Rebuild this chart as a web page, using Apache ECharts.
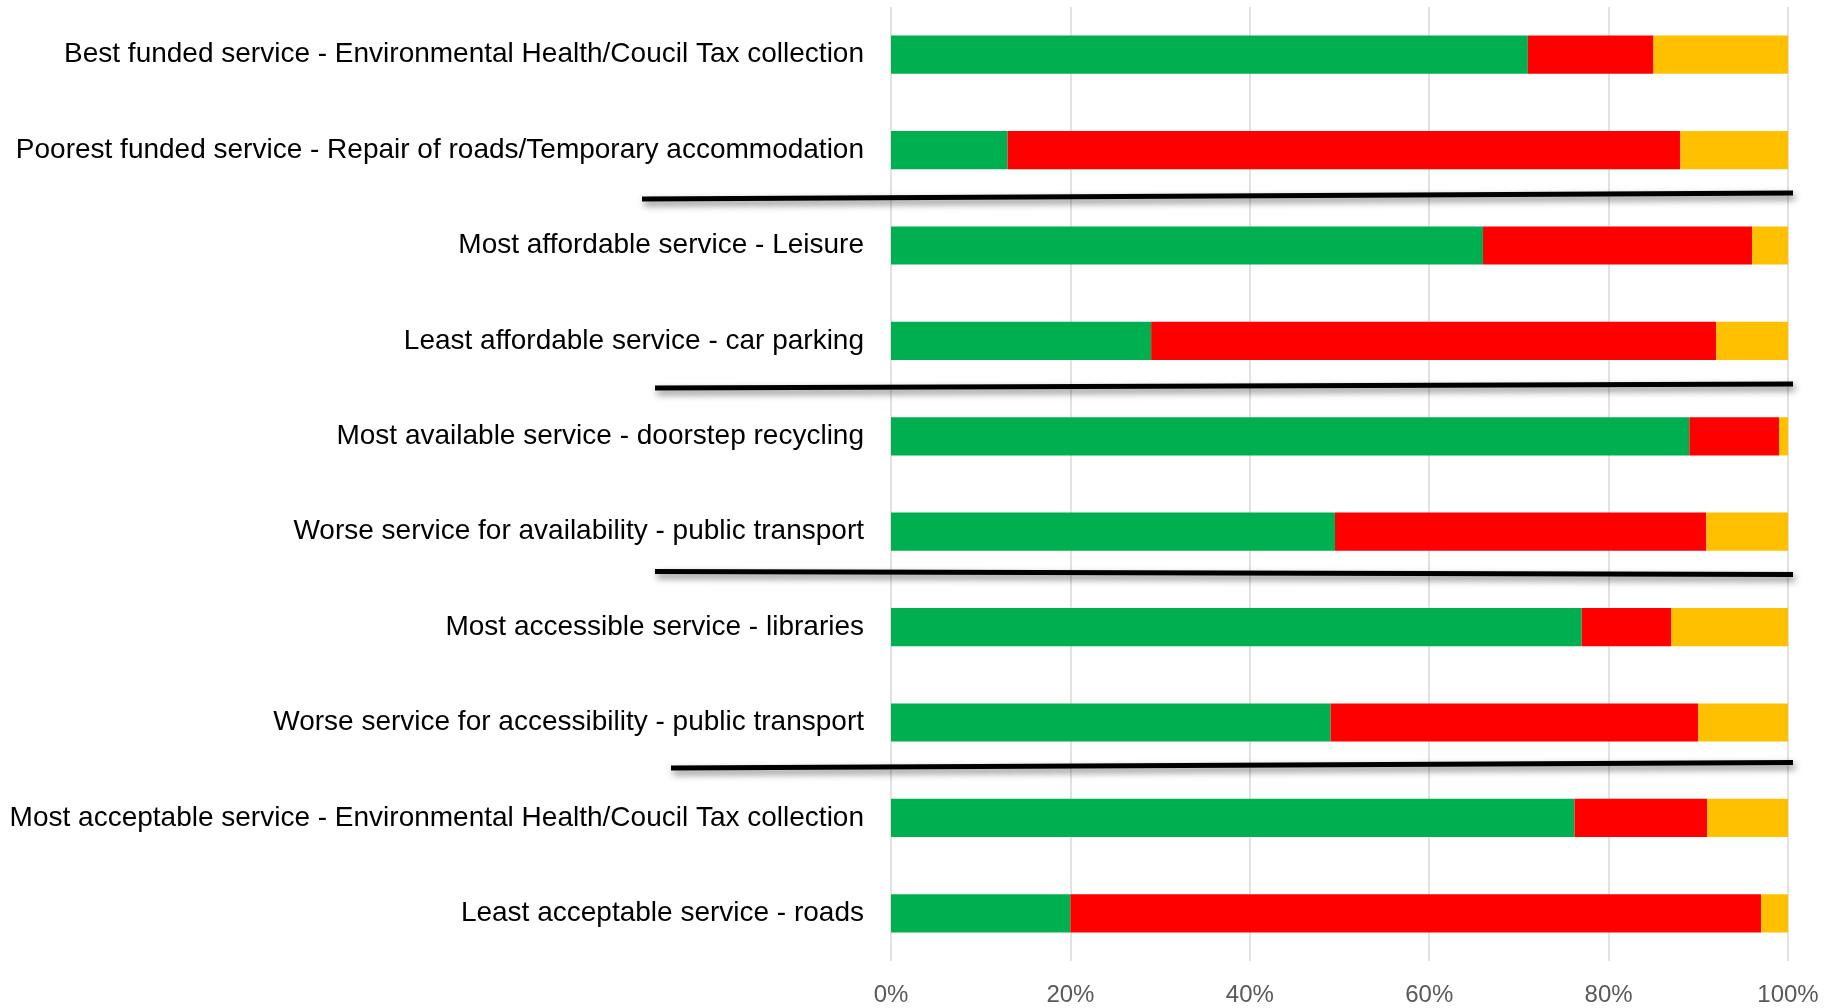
<!DOCTYPE html>
<html>
<head>
<meta charset="utf-8">
<title>Council services ratings</title>
<script src="https://cdn.jsdelivr.net/npm/echarts@6/dist/echarts.min.js"></script>
<style>
  html, body { margin: 0; padding: 0; background: #ffffff; }
  #chart { width: 1831px; height: 1008px; }
</style>
</head>
<body>
<div id="chart"></div>
<script>
// Service categories, top to bottom
const categories = [
  'Best funded service - Environmental Health/Coucil Tax collection',
  'Poorest funded service - Repair of roads/Temporary accommodation',
  'Most affordable service - Leisure',
  'Least affordable service - car parking',
  'Most available service - doorstep recycling',
  'Worse service for availability - public transport',
  'Most accessible service - libraries',
  'Worse service for accessibility - public transport',
  'Most acceptable service - Environmental Health/Coucil Tax collection',
  'Least acceptable service - roads'
];

// Share of responses (%) per category
const greenValues = [71, 13, 66, 29, 89, 49.5, 77, 49, 76.2, 20];
const redValues   = [14, 75, 30, 63, 10, 41.4, 10, 41, 14.8, 77];
const amberValues = [15, 12, 4, 8, 1, 9.1, 13, 10, 9, 3];

// Percentage axis ticks
const tickValues = [0, 20, 40, 60, 80, 100];

const chart = echarts.init(document.getElementById('chart'), null, { renderer: 'canvas' });

// Black divider strokes between the paired questions
const dividerStyle = {
  stroke: '#000000',
  lineWidth: 5,
  lineCap: 'butt',
  shadowColor: 'rgba(0,0,0,0.5)',
  shadowBlur: 7,
  shadowOffsetX: 2,
  shadowOffsetY: 4
};
const dividers = [
  [642, 199, 1793, 193],
  [655, 388, 1793, 384],
  [655, 571.5, 1793, 574.5],
  [671, 768, 1793, 762.5]
].map(function (p) {
  return {
    type: 'line',
    z: 100,
    shape: { x1: p[0], y1: p[1], x2: p[2], y2: p[3] },
    style: dividerStyle
  };
});

function barSeries(name, values, color) {
  return {
    name: name,
    type: 'bar',
    stack: 'total',
    data: values,
    barCategoryGap: '60%',
    itemStyle: { color: color },
    emphasis: { disabled: true },
    animation: false
  };
}

chart.setOption({
  backgroundColor: '#ffffff',
  animation: false,
  grid: { left: 891, right: 43, top: 7, bottom: 47, containLabel: false },
  xAxis: {
    type: 'value',
    min: tickValues[0],
    max: tickValues[tickValues.length - 1],
    interval: 20,
    axisLine: { show: false },
    axisTick: { show: false },
    splitLine: { show: true, lineStyle: { color: '#d9d9d9', width: 1.5 } },
    axisLabel: {
      formatter: '{value}%',
      color: '#595959',
      fontFamily: 'Liberation Sans, Arial, sans-serif',
      fontSize: 24,
      margin: 22
    }
  },
  yAxis: {
    type: 'category',
    data: categories,
    inverse: true,
    axisLine: { show: false },
    axisTick: { show: false },
    splitLine: { show: false },
    axisLabel: {
      color: '#000000',
      fontFamily: 'Liberation Sans, Arial, sans-serif',
      fontSize: 28,
      margin: 27
    }
  },
  series: [
    barSeries('Green', greenValues, '#00b050'),
    barSeries('Red', redValues, '#ff0000'),
    barSeries('Amber', amberValues, '#ffc000')
  ],
  graphic: dividers
});
</script>
</body>
</html>
